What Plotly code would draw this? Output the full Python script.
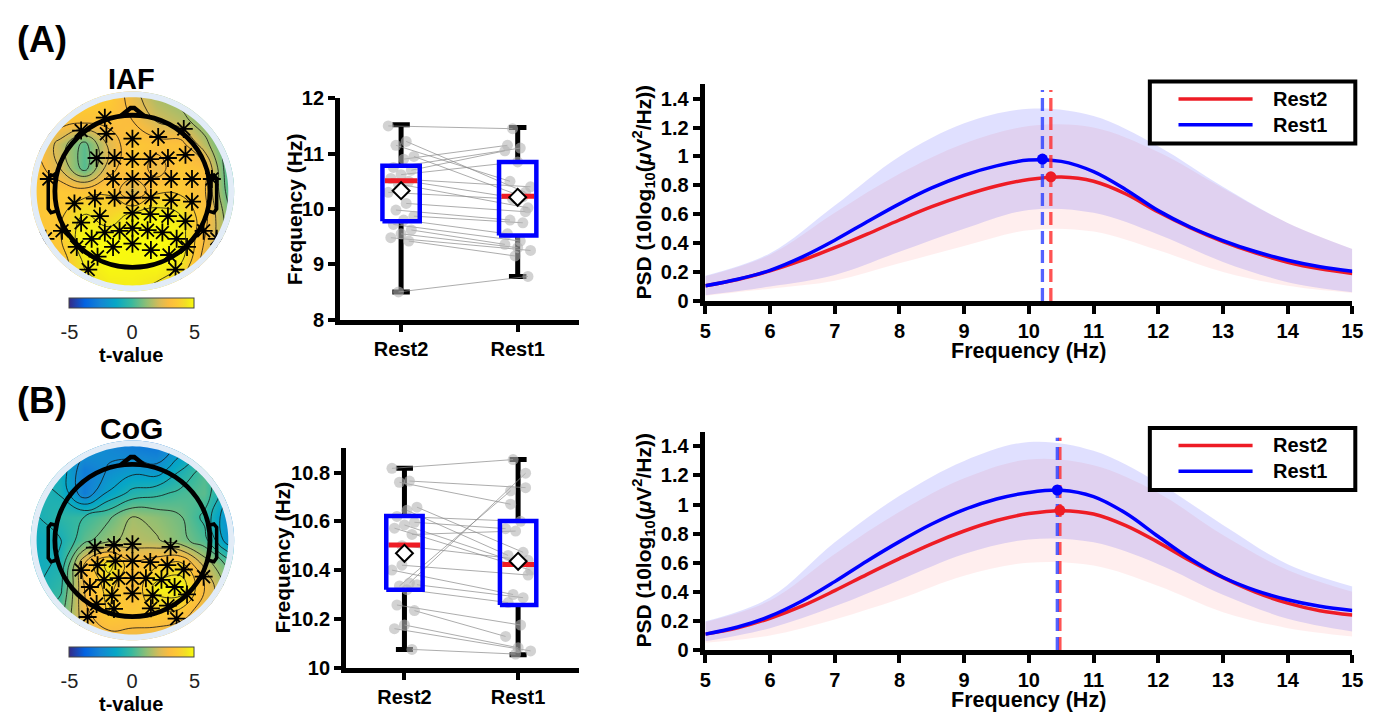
import numpy as np
import plotly.graph_objects as go

W, H = 1391, 724
FONT = "Liberation Sans, Arial, sans-serif"


def fx(p):
    return p / W


def fy(p):
    return 1 - p / H


# ---------------- scalp maps: t-values on a regular grid (rows listed front to back)
grid_pos = [-0.62, -0.465, -0.31, -0.155, 0.0, 0.155, 0.31, 0.465, 0.62]

iaf_t_rows = [
    [3.4, 3.6, 4.0, 3.8, 2.6, 1.6, 1.2, 0.9, 0.6],
    [3.4, 3.5, 3.3, 3.3, 3.0, 2.2, 1.8, 1.0, 0.4],
    [3.3, 1.9, 0.5, 2.4, 3.6, 3.3, 3.3, 1.8, 0.2],
    [3.4, 2.2, 0.4, 2.6, 3.7, 2.6, 3.6, 3.2, 0.1],
    [3.5, 3.6, 3.4, 3.7, 2.2, 3.6, 3.6, 3.1, 0.4],
    [3.5, 3.6, 4.6, 4.0, 4.7, 4.9, 4.5, 3.3, 1.0],
    [3.3, 3.7, 5.0, 5.0, 5.0, 5.0, 4.9, 3.0, 1.3],
    [3.1, 3.3, 4.6, 5.0, 4.9, 5.0, 4.6, 2.6, 1.3],
    [2.9, 3.3, 4.2, 4.6, 4.7, 4.4, 3.6, 2.6, 1.6],
]

cog_t_rows = [
    [-0.8, -1.2, -1.8, -2.4, -2.8, -3.0, -2.0, -1.4, -1.2],
    [-0.8, -1.0, -2.8, -2.2, -1.8, -2.0, -0.8, 0.3, -0.8],
    [-0.5, -0.8, -2.8, -1.4, -0.5, -0.2, 0.2, 0.5, -1.4],
    [-0.8, -0.3, 0.0, 0.6, 1.5, 1.2, 0.8, -0.2, -2.2],
    [-1.0, -0.8, 0.5, 1.3, 1.8, 1.6, 1.0, 0.3, -2.0],
    [-1.0, -0.6, 3.0, 4.8, 3.2, 3.6, 4.0, 2.0, 0.5],
    [-0.8, -0.2, 3.0, 4.0, 3.0, 4.8, 5.0, 3.0, 1.2],
    [-0.2, 0.4, 2.8, 3.8, 3.5, 3.8, 3.6, 2.4, 1.4],
    [0.2, 1.0, 2.5, 2.8, 2.8, 2.6, 2.2, 1.8, 1.5],
]

# significant electrodes (head radius = 0.5)
iaf_sig_x = [-0.178, -0.331, -0.168, 0.0, 0.166, 0.331,
             -0.231, -0.115, 0.0, 0.115, 0.229, 0.342,
             -0.539, -0.125, 0.0, 0.119, 0.25, 0.384, 0.512,
             -0.374, -0.242, -0.115, 0.0, 0.119, 0.25, 0.384,
             -0.331, -0.21, 0.0, 0.115, 0.229, 0.342,
             -0.454, -0.178, -0.083, 0.0, 0.098, 0.193, 0.285, 0.459,
             -0.561, 0.544, -0.263,
             -0.359, -0.125, 0.0, 0.119, 0.236, 0.352,
             -0.225, -0.285, 0.278]
iaf_sig_y = [0.484, 0.399, 0.378, 0.346, 0.357, 0.41,
             0.219, 0.219, 0.212, 0.212, 0.219, 0.24,
             0.081, 0.081, 0.081, 0.081, 0.081, 0.081, 0.081,
             -0.079, -0.047, -0.042, -0.042, -0.042, -0.057, -0.068,
             -0.206, -0.163, -0.142, -0.149, -0.163, -0.195,
             -0.259, -0.27, -0.259, -0.242, -0.255, -0.27, -0.312, -0.259,
             -0.312, -0.312, -0.312,
             -0.365, -0.365, -0.344, -0.386, -0.418, -0.365,
             -0.429, -0.514, -0.514]

cog_sig_x = [-0.242, -0.119, 0.0, 0.246, -0.110, 0.0, 0.115, -0.225, 0.225,
             -0.331, 0.331, -0.183, -0.089, 0.0, 0.087, 0.187, 0.459, -0.274,
             0.272, -0.132, 0.0, 0.130, 0.352, -0.231, -0.119, 0.119, 0.229,
             -0.289, 0.285]
cog_sig_y = [-0.047, -0.030, -0.025, -0.042, -0.136, -0.136, -0.142, -0.163, -0.163,
             -0.195, -0.191, -0.259, -0.248, -0.248, -0.248, -0.259, -0.238, -0.306,
             -0.306, -0.361, -0.348, -0.361, -0.355, -0.418, -0.450, -0.446, -0.429,
             -0.503, -0.514]

# ---------------- peak frequency per subject (Hz)
conditions = ["Rest2", "Rest1"]

iaf_rest2 = [11.50, 11.22, 11.15, 10.95, 10.90, 10.75, 10.70, 10.62, 10.55, 10.50, 10.45,
             10.30, 10.10, 9.98, 9.87, 9.80, 9.72, 9.62, 9.55, 9.48, 9.42, 8.50]
iaf_rest1 = [11.45, 10.30, 10.50, 10.22, 11.15, 11.10, 11.05, 10.85, 10.40, 10.20, 10.02,
             10.18, 9.95, 9.80, 9.75, 9.55, 9.42, 9.36, 9.30, 9.25, 9.15, 8.78]
iaf_q1 = [9.78, 9.52]
iaf_median = [10.51, 10.23]
iaf_q3 = [10.78, 10.85]
iaf_mean = [10.33, 10.21]
iaf_low = [8.50, 8.78]
iaf_high = [11.52, 11.47]

cog_rest2 = [10.817, 10.765, 10.760, 10.658, 10.645, 10.620, 10.596, 10.585, 10.572, 10.546, 10.420,
             10.400, 10.347, 10.335, 10.340, 10.320, 10.257, 10.234, 10.175, 10.160, 10.075, 10.500]
cog_rest1 = [10.853, 10.738, 10.670, 10.473, 10.460, 10.600, 10.570, 10.430, 10.400, 10.560, 10.380,
             10.300, 10.797, 10.725, 10.287, 10.267, 10.175, 10.128, 10.082, 10.069, 10.056, 10.440]
cog_q1 = [10.320, 10.257]
cog_median = [10.503, 10.423]
cog_q3 = [10.622, 10.601]
cog_mean = [10.469, 10.436]
cog_low = [10.075, 10.053]
cog_high = [10.817, 10.853]

# ---------------- alpha-band spectra
freq = [5, 5.5, 6, 6.5, 7, 7.5, 8, 8.5, 9, 9.5, 10, 10.5, 11, 11.5, 12, 12.5, 13, 13.5, 14, 14.5, 15]
band_freq = [5, 6, 7, 8, 9, 10, 11, 12, 13, 14, 15]

iaf_rest2_psd = [0.105, 0.148, 0.208, 0.282, 0.368, 0.462, 0.560, 0.652, 0.730, 0.795, 0.840,
                 0.857, 0.828, 0.740, 0.615, 0.505, 0.410, 0.332, 0.268, 0.222, 0.190]
iaf_rest1_psd = [0.105, 0.150, 0.212, 0.305, 0.420, 0.548, 0.672, 0.782, 0.870, 0.935, 0.975,
                 0.966, 0.895, 0.770, 0.625, 0.510, 0.418, 0.342, 0.282, 0.237, 0.206]
iaf_rest2_upper = [0.17, 0.32, 0.61, 0.88, 1.09, 1.21, 1.20, 1.03, 0.78, 0.54, 0.36]
iaf_rest2_lower = [0.035, 0.085, 0.14, 0.26, 0.38, 0.49, 0.48, 0.35, 0.20, 0.105, 0.055]
iaf_rest1_upper = [0.175, 0.33, 0.66, 1.00, 1.23, 1.33, 1.28, 1.07, 0.79, 0.54, 0.36]
iaf_rest1_lower = [0.04, 0.10, 0.18, 0.34, 0.50, 0.63, 0.61, 0.46, 0.27, 0.13, 0.06]
iaf_peak_freq = [10.34, 10.21]
iaf_peak_psd = [0.859, 0.982]

cog_rest2_psd = [0.109, 0.152, 0.218, 0.303, 0.408, 0.520, 0.628, 0.730, 0.818, 0.890, 0.938,
                 0.958, 0.935, 0.855, 0.740, 0.612, 0.497, 0.398, 0.322, 0.270, 0.240]
cog_rest1_psd = [0.109, 0.158, 0.232, 0.338, 0.470, 0.612, 0.745, 0.866, 0.965, 1.038, 1.083,
                 1.099, 1.055, 0.940, 0.780, 0.625, 0.500, 0.410, 0.345, 0.300, 0.272]
cog_rest2_upper = [0.193, 0.34, 0.66, 0.95, 1.18, 1.31, 1.27, 1.08, 0.79, 0.55, 0.40]
cog_rest2_lower = [0.05, 0.10, 0.21, 0.35, 0.51, 0.60, 0.58, 0.44, 0.26, 0.15, 0.093]
cog_rest1_upper = [0.197, 0.36, 0.74, 1.06, 1.30, 1.43, 1.37, 1.15, 0.86, 0.59, 0.437]
cog_rest1_lower = [0.06, 0.15, 0.30, 0.48, 0.66, 0.76, 0.74, 0.59, 0.38, 0.215, 0.127]
cog_peak_freq = [10.48, 10.44]
cog_peak_psd = [0.96, 1.10]

psd_ticks = [0, 0.2, 0.4, 0.6, 0.8, 1.0, 1.2, 1.4]
psd_ticktext = ["0", "0.2", "0.4", "0.6", "0.8", "1", "1.2", "1.4"]
freq_ticks = [5, 6, 7, 8, 9, 10, 11, 12, 13, 14, 15]

# ---------------- styling
RED = "#ee1c25"
BLUE = "#0000ff"
PARULA = [[0.0, "#352a87"], [0.125, "#0363e1"], [0.25, "#1485d4"], [0.375, "#06a7c6"],
          [0.5, "#38b99e"], [0.625, "#92bf73"], [0.72, "#d6bb58"], [0.80, "#fbbc3f"],
          [0.87, "#fdca33"], [0.935, "#f2e024"], [1.0, "#f9fb0e"]]
TICK_FONT = dict(family=FONT, size=20, color="black", weight="bold")

fig = go.Figure()
shapes = []
annotations = []

# ---------------- scalp maps
HEAD_PX = 157.0          # pixels per head unit
R = 0.70                 # half-range of the map axes (covers the whole smoothed image)
R_DISK = 0.618
R_RING = 0.656


def circle_pts(r, n=160):
    t = np.linspace(0, 2 * np.pi, n, endpoint=False)
    return r * np.cos(t), r * np.sin(t)


def closed_path(xs, ys):
    return "M " + " L ".join(f"{a:.4f},{b:.4f}" for a, b in zip(xs, ys)) + " Z"


def add_topomap(idx, cx, cy, rows, sx, sy, cb_top):
    xa = "x" if idx == 1 else f"x{idx}"
    ya = "y" if idx == 1 else f"y{idx}"
    half = R * HEAD_PX
    fig.layout[f"xaxis{'' if idx == 1 else idx}"] = dict(
        domain=[fx(cx - half), fx(cx + half)], range=[-R, R], visible=False,
        anchor=ya, fixedrange=True)
    fig.layout[f"yaxis{'' if idx == 1 else idx}"] = dict(
        domain=[fy(cy + half), fy(cy - half)], range=[-R, R], visible=False,
        anchor=xa, fixedrange=True)
    z = rows[::-1]
    fig.add_trace(go.Heatmap(
        x=grid_pos, y=grid_pos, z=z, xaxis=xa, yaxis=ya, zsmooth="best",
        colorscale=PARULA, zmin=-5, zmax=5,
        colorbar=dict(orientation="h", x=fx(127.5), xanchor="center",
                      y=fy(cb_top), yanchor="top", len=125, lenmode="pixels",
                      thickness=10, thicknessmode="pixels", xpad=0, ypad=0,
                      outlinewidth=1, outlinecolor="#444",
                      tickvals=[-5, 0, 5], ticktext=["-5", "0", "5"],
                      ticks="outside", ticklen=7, tickcolor="rgba(0,0,0,0)",
                      tickfont=dict(family=FONT, size=20, color="#222")),
        hoverinfo="skip"))
    fig.add_trace(go.Contour(
        x=grid_pos, y=grid_pos, z=z, xaxis=xa, yaxis=ya, showscale=False,
        contours=dict(coloring="none", start=-4.5, end=4.5, size=0.75, showlines=True),
        line=dict(color="rgba(20,20,20,0.8)", width=1, smoothing=1.3),
        hoverinfo="skip"))
    fig.add_trace(go.Scatter(
        x=sx, y=sy, xaxis=xa, yaxis=ya, mode="markers",
        marker=dict(symbol="asterisk-open", size=15, color="black",
                    line=dict(color="black", width=1.8)),
        hoverinfo="skip", showlegend=False))
    # blank outside the disk, pale rim, head outline
    rx, ry = circle_pts(R_RING)
    dx, dy = circle_pts(R_DISK)
    L = R
    outer = f"M {-L},{-L} L {L},{-L} L {L},{L} L {-L},{L} Z "
    shapes.append(dict(type="path", xref=xa, yref=ya, path=outer + closed_path(rx, ry),
                       fillcolor="white", fillrule="evenodd", line=dict(width=0), layer="above"))
    shapes.append(dict(type="path", xref=xa, yref=ya,
                       path=closed_path(rx, ry) + " " + closed_path(dx, dy),
                       fillcolor="#e2ecf7", fillrule="evenodd", line=dict(width=0), layer="above"))
    shapes.append(dict(type="circle", xref=xa, yref=ya, x0=-0.5, y0=-0.5, x1=0.5, y1=0.5,
                       line=dict(color="black", width=4.8), layer="above"))
    shapes.append(dict(type="path", xref=xa, yref=ya,
                       path="M -0.078,0.494 L -0.012,0.548 L 0.012,0.548 L 0.078,0.494",
                       line=dict(color="black", width=4.5), layer="above"))
    for s in (-1, 1):
        shapes.append(dict(type="path", xref=xa, yref=ya,
                           path=(f"M {s*0.494},0.10 L {s*0.525},0.108 L {s*0.543},0.085 "
                                 f"L {s*0.543},-0.115 L {s*0.525},-0.14 L {s*0.492},-0.13"),
                           line=dict(color="black", width=3.5), layer="above"))


add_topomap(1, 128, 186, iaf_t_rows, iaf_sig_x, iaf_sig_y, 295.5)
add_topomap(2, 128, 546, cog_t_rows, cog_sig_x, cog_sig_y, 655.5)


# ---------------- paired box plots
def add_box(idx, rest2, rest1, q1, med, q3, mean, low, high,
            dom_x, dom_y, xr, yr, ticks, ticktext):
    xa, ya = f"x{idx}", f"y{idx}"
    fig.layout[f"xaxis{idx}"] = dict(
        domain=[fx(dom_x[0]), fx(dom_x[1])], range=xr, anchor=ya,
        tickvals=[0, 1], ticktext=conditions, showline=True, linewidth=4.5, linecolor="black",
        ticks="outside", ticklen=8, tickwidth=4, tickcolor="black", showgrid=False,
        zeroline=False, tickfont=TICK_FONT)
    fig.layout[f"yaxis{idx}"] = dict(
        domain=[fy(dom_y[0]), fy(dom_y[1])], range=yr, anchor=xa,
        tickvals=ticks, ticktext=ticktext, showline=True, linewidth=4.5, linecolor="black",
        ticks="outside", ticklen=7, tickwidth=4, tickcolor="black", showgrid=False,
        zeroline=False, tickfont=TICK_FONT)
    n = len(rest2)
    jit2 = [((k * 7) % 11 - 5) * 0.022 for k in range(n)]
    jit1 = [((k * 5 + 3) % 11 - 5) * 0.022 for k in range(n)]
    # whiskers and caps
    wx, wy, cx_, cy_ = [], [], [], []
    for i in range(2):
        wx += [i, i, None, i, i, None]
        wy += [high[i], q3[i], None, q1[i], low[i], None]
        cx_ += [i - 0.075, i + 0.075, None, i - 0.075, i + 0.075, None]
        cy_ += [high[i], high[i], None, low[i], low[i], None]
    fig.add_trace(go.Scatter(x=wx, y=wy, xaxis=xa, yaxis=ya, mode="lines",
                             line=dict(color="black", width=5), showlegend=False, hoverinfo="skip"))
    fig.add_trace(go.Scatter(x=cx_, y=cy_, xaxis=xa, yaxis=ya, mode="lines",
                             line=dict(color="black", width=5), showlegend=False, hoverinfo="skip"))
    # subject pairs
    px_, py_ = [], []
    for k in range(n):
        px_ += [0 + jit2[k], 1 + jit1[k], None]
        py_ += [rest2[k], rest1[k], None]
    fig.add_trace(go.Scatter(x=px_, y=py_, xaxis=xa, yaxis=ya, mode="lines",
                             line=dict(color="rgba(140,140,140,0.8)", width=0.9),
                             showlegend=False, hoverinfo="skip"))
    fig.add_trace(go.Scatter(x=[j for j in jit2] + [1 + j for j in jit1], y=rest2 + rest1,
                             xaxis=xa, yaxis=ya, mode="markers",
                             marker=dict(size=11, color="rgba(180,180,180,0.6)", line=dict(width=0)),
                             showlegend=False, hoverinfo="skip"))
    # boxes, medians, means
    hw = 0.16
    bx, by, mx, my = [], [], [], []
    for i in range(2):
        bx += [i - hw, i + hw, i + hw, i - hw, i - hw, None]
        by += [q1[i], q1[i], q3[i], q3[i], q1[i], None]
        mx += [i - hw + 0.02, i + hw - 0.02, None]
        my += [med[i], med[i], None]
    fig.add_trace(go.Scatter(x=mx, y=my, xaxis=xa, yaxis=ya, mode="lines",
                             line=dict(color=RED, width=5), showlegend=False, hoverinfo="skip"))
    fig.add_trace(go.Scatter(x=bx, y=by, xaxis=xa, yaxis=ya, mode="lines",
                             line=dict(color=BLUE, width=4.5), showlegend=False, hoverinfo="skip"))
    fig.add_trace(go.Scatter(x=[0, 1], y=mean, xaxis=xa, yaxis=ya, mode="markers",
                             marker=dict(symbol="diamond", size=13, color="white",
                                         line=dict(color="black", width=2)),
                             showlegend=False, hoverinfo="skip"))


add_box(3, iaf_rest2, iaf_rest1, iaf_q1, iaf_median, iaf_q3, iaf_mean, iaf_low, iaf_high,
        (338, 580), (318.3, 90), [-0.525, 1.525], [8, 12],
        [8, 9, 10, 11, 12], ["8", "9", "10", "11", "12"])
add_box(4, cog_rest2, cog_rest1, cog_q1, cog_median, cog_q3, cog_mean, cog_low, cog_high,
        (344, 580), (677.3, 450.8), [-0.516, 1.535], [10, 10.9],
        [10, 10.2, 10.4, 10.6, 10.8], ["10", "10.2", "10.4", "10.6", "10.8"])


# ---------------- spectra
def add_psd(idx, m2, m1, u2, l2, u1, l1, pk_f, pk_v, dom_y):
    xa, ya = f"x{idx}", f"y{idx}"
    fig.layout[f"xaxis{idx}"] = dict(
        domain=[fx(708), fx(1363)], range=[5, 15], anchor=ya, tickvals=freq_ticks,
        showline=True, linewidth=4.5, linecolor="black", ticks="outside", ticklen=8,
        tickwidth=4, tickcolor="black", showgrid=False, zeroline=False, tickfont=TICK_FONT)
    fig.layout[f"yaxis{idx}"] = dict(
        domain=[fy(dom_y[0]), fy(dom_y[1])], range=[0, 1.5], anchor=xa,
        tickvals=psd_ticks, ticktext=psd_ticktext, showline=True, linewidth=4.5,
        linecolor="black", ticks="outside", ticklen=8, tickwidth=4, tickcolor="black",
        showgrid=False, zeroline=False, tickfont=TICK_FONT)
    for lo, up, col in ((l2, u2, "rgba(255,0,0,0.065)"), (l1, u1, "rgba(0,0,255,0.12)")):
        fig.add_trace(go.Scatter(x=band_freq, y=lo, xaxis=xa, yaxis=ya, mode="lines",
                                 line=dict(width=0, shape="spline"), showlegend=False,
                                 hoverinfo="skip"))
        fig.add_trace(go.Scatter(x=band_freq, y=up, xaxis=xa, yaxis=ya, mode="lines",
                                 line=dict(width=0, shape="spline"), fill="tonexty",
                                 fillcolor=col, showlegend=False, hoverinfo="skip"))
    fig.add_trace(go.Scatter(x=freq, y=m2, xaxis=xa, yaxis=ya, mode="lines",
                             line=dict(color=RED, width=3.5, shape="spline"),
                             showlegend=False, hoverinfo="skip"))
    fig.add_trace(go.Scatter(x=freq, y=m1, xaxis=xa, yaxis=ya, mode="lines",
                             line=dict(color=BLUE, width=3.5, shape="spline"),
                             showlegend=False, hoverinfo="skip"))
    for f, col in ((pk_f[0], "rgba(255,40,40,0.8)"), (pk_f[1], "rgba(40,60,255,0.8)")):
        fig.add_trace(go.Scatter(x=[f, f], y=[0, 1.46], xaxis=xa, yaxis=ya, mode="lines",
                                 line=dict(color=col, width=3.3, dash="13px,6px"),
                                 showlegend=False, hoverinfo="skip"))
    fig.add_trace(go.Scatter(x=pk_f, y=pk_v, xaxis=xa, yaxis=ya, mode="markers",
                             marker=dict(size=11, color=[RED, BLUE]),
                             showlegend=False, hoverinfo="skip"))


add_psd(5, iaf_rest2_psd, iaf_rest1_psd, iaf_rest2_upper, iaf_rest2_lower,
        iaf_rest1_upper, iaf_rest1_lower, iaf_peak_freq, iaf_peak_psd, (299, 75.5))
add_psd(6, cog_rest2_psd, cog_rest1_psd, cog_rest2_upper, cog_rest2_lower,
        cog_rest1_upper, cog_rest1_lower, cog_peak_freq, cog_peak_psd, (659, 434))


# ---------------- legends
def add_legend(top):
    shapes.append(dict(type="rect", xref="paper", yref="paper", x0=fx(1158), x1=fx(1366),
                       y0=fy(top + 64), y1=fy(top), line=dict(color="black", width=4),
                       fillcolor="white", layer="above"))
    for dy, col, name in ((18, RED, conditions[0]), (44.6, BLUE, conditions[1])):
        shapes.append(dict(type="line", xref="paper", yref="paper", x0=fx(1187), x1=fx(1262),
                           y0=fy(top + dy), y1=fy(top + dy), line=dict(color=col, width=3.5),
                           layer="above"))
        annotations.append(dict(x=fx(1281), y=fy(top + dy), xref="paper", yref="paper",
                                xanchor="left", yanchor="middle", text=name, showarrow=False,
                                font=dict(family=FONT, size=20, color="black", weight="bold")))


add_legend(72.7)
add_legend(430)


# ---------------- text
def label(x, y, text, size, angle=0, weight="bold", color="black"):
    annotations.append(dict(x=fx(x), y=fy(y), xref="paper", yref="paper", text=text,
                            showarrow=False, textangle=angle, xanchor="center", yanchor="middle",
                            font=dict(family=FONT, size=size, color=color, weight=weight)))


label(36, 29, "(A)", 36)
label(36, 402, "(B)", 36)
label(127, 70, "IAF", 29)
label(127, 431, "CoG", 30)
label(127, 355, "t-value", 20)
label(127, 715, "t-value", 20)
label(292, 204, "Frequency (Hz)", 21, -90)
label(280, 564, "Frequency (Hz)", 21, -90)
psd_title = "PSD (10log<sub>10</sub>(<i>μ</i>V<sup>2</sup>/Hz))"
label(645, 187, psd_title, 21, -90)
label(645, 546, psd_title, 21, -90)
label(1035, 351, "Frequency (Hz)", 21.5)
label(1035, 711, "Frequency (Hz)", 21.5)

fig.update_layout(
    width=W, height=H, margin=dict(l=0, r=0, t=0, b=0),
    paper_bgcolor="white", plot_bgcolor="white", showlegend=False,
    font=dict(family=FONT, color="black"),
    shapes=shapes, annotations=annotations,
)

fig.write_html("out.html")
